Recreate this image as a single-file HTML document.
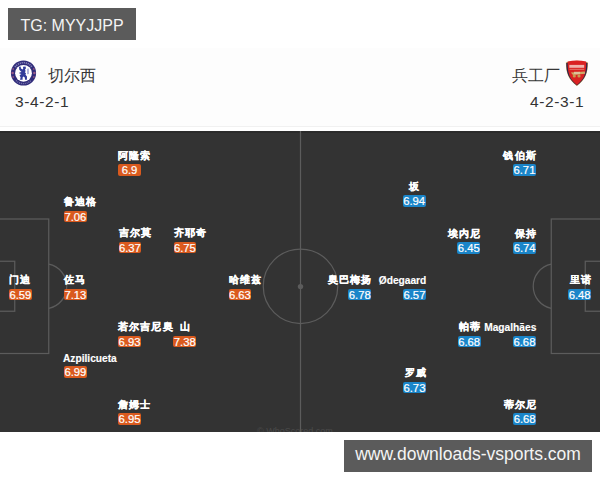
<!DOCTYPE html><html><head><meta charset="utf-8"><style>
*{margin:0;padding:0;box-sizing:border-box}
html,body{width:600px;height:480px;overflow:hidden;background:#fff;font-family:"Liberation Sans",sans-serif}
#hdr{position:absolute;left:0;top:48px;width:600px;height:79px;background:#fdfdfd;border-bottom:1px solid #f1f1f1}
#tg{position:absolute;left:8px;top:8px;width:128px;height:32px;background:#5b5b5b;color:#f4f4f4;font-size:16px;line-height:36px;text-align:center}
#wm{position:absolute;left:344px;top:440px;width:248px;height:32px;background:#5b5b5b;color:#f4f4f4;font-size:17.5px;line-height:29px;text-align:center}
.team{position:absolute;font-size:16px;color:#363636;line-height:21px}
.form{position:absolute;font-size:15.5px;color:#333;line-height:20px;letter-spacing:0.6px}
#pitch{position:absolute;left:0;top:131px;width:600px;height:301px;background:#333;overflow:hidden;box-shadow:inset 0 2px 0 #2b2b2b}
.p{position:absolute;width:120px;height:27px}
.p .n{position:relative;top:-1.5px;height:14px;line-height:14px;font-size:10px;font-weight:bold;color:#fff;white-space:nowrap;letter-spacing:1.1px;-webkit-text-stroke:0.25px #fff}
.p .n.l{font-size:10.2px;letter-spacing:0;-webkit-text-stroke:0.15px #fff;top:-0.5px;left:-1px}
.a .n{margin-right:-1px}
.a .n.l{margin-right:0;left:0.5px}
.p .b{width:22.75px;height:11.6px;line-height:13.6px;font-size:11.3px;color:#fff;-webkit-text-stroke:0.2px #fff;text-align:center;border-radius:2px}
.c .b{background:#da5a1e}
.a{text-align:right}
.a .b{background:#1a85c9;margin-left:auto}
</style></head><body>
<div id="hdr"></div>
<div id="tg">TG: MYYJJPP</div>
<svg style="position:absolute;left:10px;top:60px" width="27" height="27" viewBox="0 0 27 27">
<circle cx="13.5" cy="13" r="12.6" fill="#302c7a"/>
<path d="M5 7 A10.5 10.5 0 0 1 22 7" stroke="#8784b8" stroke-width="1.6" fill="none" stroke-dasharray="1.2 0.8"/>
<path d="M6 20.5 A10.5 10.5 0 0 0 21 20.5" stroke="#7d7ab0" stroke-width="1.4" fill="none" stroke-dasharray="1 0.9"/>
<circle cx="2.6" cy="13" r="1.3" fill="#9a5a8a"/><circle cx="24.4" cy="13" r="1.3" fill="#9a5a8a"/>
<circle cx="3.2" cy="9" r="0.9" fill="#8a5080"/><circle cx="23.8" cy="9" r="0.9" fill="#8a5080"/>
<circle cx="3.2" cy="17" r="0.9" fill="#8a5080"/><circle cx="23.8" cy="17" r="0.9" fill="#8a5080"/>
<circle cx="13.5" cy="13.3" r="8.4" fill="#fff"/>
<path d="M9 6.8 L10.6 6.6 L11 8.5 L12.6 9.4 L13.2 8.8 L13 6.8 L15.5 6.4 L16 8.3 L15 9.5 L15.6 11 L14.8 12.4 L16 13 L15.5 14.8 L17 16.5 L16.9 19.7 L15 19.7 L14.8 17.5 L13.4 16.4 L12.6 17.6 L12.6 19.7 L10 19.7 L10.6 17.4 L9.6 15.2 L11.4 14 L9.4 13.6 L9.4 12.4 L11.6 12 L10.2 10.8 L9.2 9.4 Z" fill="#313c9a"/>
<path d="M17.4 8.8 L18.6 8.6 L18.6 14 L17.4 14.2 Z" fill="#7e86c6"/>
</svg>
<div class="team" style="left:48px;top:65px">切尔西</div>
<div class="form" style="left:15px;top:92px">3-4-2-1</div>
<div class="team" style="left:512px;top:65px">兵工厂</div>
<svg style="position:absolute;left:565px;top:60px" width="24" height="27" viewBox="0 0 24 27">
<path d="M0.9 2.6 Q11.9 -0.9 22.9 2.6 C22.9 13 20.5 19.5 11.9 26 C3.3 19.5 0.9 13 0.9 2.6 Z" fill="#c9a24a"/>
<path d="M1.3 2.9 Q11.9 -0.5 22.5 2.9 C22.5 13 20.1 19.3 11.9 25.4 C3.7 19.3 1.3 13 1.3 2.9 Z" fill="#262350"/>
<path d="M2.6 1.4 Q11.9 -0.5 21.2 1.4 C21.3 13 19.4 19.2 11.9 24.9 C4.4 19.2 2.5 13 2.6 1.4 Z" fill="#da2222"/>
<rect x="4.3" y="4.9" width="14.9" height="2.9" fill="#efb4ac"/>
<rect x="4.6" y="8.9" width="14.6" height="0.7" fill="#e89484"/>
<path d="M5.8 12.4 L19.8 11.4 L20.2 13.8 L8 15 Z" fill="#cfa866"/><rect x="9" y="11.8" width="6" height="2.4" fill="#dcc29a"/>
<circle cx="9.3" cy="16" r="1.6" fill="#c89a52"/><circle cx="14" cy="16" r="1.6" fill="#c89a52"/>
</svg>
<div class="form" style="left:530px;top:92px">4-2-3-1</div>
<div id="pitch"><svg width="600" height="301" style="position:absolute;left:0;top:0">
<g stroke="#5c5c5c" stroke-width="1.25" fill="none">
<line x1="300.5" y1="0" x2="300.5" y2="301"/>
<circle cx="300.5" cy="155.25" r="37.25"/>
<rect x="-2" y="88" width="50.75" height="134.5"/>
<rect x="-2" y="130.25" width="16.75" height="50"/>
<path d="M48.75 133.2 A22.5 22.5 0 0 1 48.75 177.3"/>
<rect x="551.25" y="88" width="52" height="134.5"/>
<rect x="585.25" y="130.25" width="17" height="50"/>
<path d="M551.25 133.2 A22.5 22.5 0 0 0 551.25 177.3"/>
</g>
<circle cx="300.5" cy="155.6" r="2.7" fill="#5c5c5c"/>
</svg>
<div class="p c" style="left:9.0px;top:143.8px"><div class="n">门迪</div><div class="b">6.59</div></div>
<div class="p c" style="left:64.0px;top:65.8px"><div class="n">鲁迪格</div><div class="b">7.06</div></div>
<div class="p c" style="left:64.0px;top:143.8px"><div class="n">佐马</div><div class="b">7.13</div></div>
<div class="p c" style="left:64.0px;top:221.0px"><div class="n l">Azpilicueta</div><div class="b">6.99</div></div>
<div class="p c" style="left:118.2px;top:19.0px"><div class="n">阿隆索</div><div class="b">6.9</div></div>
<div class="p c" style="left:118.5px;top:96.8px"><div class="n">吉尔莫</div><div class="b">6.37</div></div>
<div class="p c" style="left:118.2px;top:190.8px"><div class="n">若尔吉尼奥</div><div class="b">6.93</div></div>
<div class="p c" style="left:118.2px;top:268.0px"><div class="n">詹姆士</div><div class="b">6.95</div></div>
<div class="p c" style="left:173.5px;top:96.8px"><div class="n">齐耶奇</div><div class="b">6.75</div></div>
<div class="p c" style="left:173.4px;top:190.9px"><div class="n"><span style="padding-left:6.5px">山</span></div><div class="b">7.38</div></div>
<div class="p c" style="left:228.5px;top:143.8px"><div class="n">哈维兹</div><div class="b">6.63</div></div>
<div class="p a" style="left:471.0px;top:143.8px"><div class="n">里诺</div><div class="b">6.48</div></div>
<div class="p a" style="left:415.8px;top:19.2px"><div class="n">钱伯斯</div><div class="b">6.71</div></div>
<div class="p a" style="left:416.0px;top:97.2px"><div class="n">保持</div><div class="b">6.74</div></div>
<div class="p a" style="left:415.8px;top:190.8px"><div class="n l">Magalhães</div><div class="b">6.68</div></div>
<div class="p a" style="left:416.0px;top:268.0px"><div class="n">蒂尔尼</div><div class="b">6.68</div></div>
<div class="p a" style="left:360.2px;top:97.0px"><div class="n">埃内尼</div><div class="b">6.45</div></div>
<div class="p a" style="left:360.5px;top:190.8px"><div class="n">帕蒂</div><div class="b">6.68</div></div>
<div class="p a" style="left:305.5px;top:50.0px"><div class="n"><span style="padding-right:6.2px">坂</span></div><div class="b">6.94</div></div>
<div class="p a" style="left:305.8px;top:236.8px"><div class="n">罗威</div><div class="b">6.73</div></div>
<div class="p a" style="left:305.8px;top:143.8px"><div class="n l">Ødegaard</div><div class="b">6.57</div></div>
<div class="p a" style="left:251.2px;top:143.8px"><div class="n">奥巴梅扬</div><div class="b">6.78</div></div>
<div style="position:absolute;left:257px;top:295.3px;font-size:9px;line-height:10px;color:#4a4a4a;white-space:nowrap">© WhoScored.com</div></div>
<div id="wm">www.downloads-vsports.com</div>
</body></html>
